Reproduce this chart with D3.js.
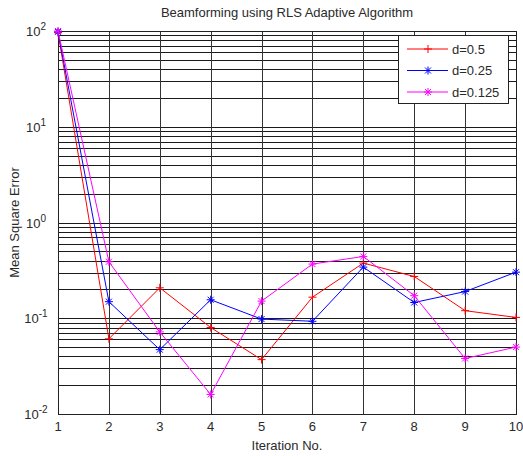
<!DOCTYPE html>
<html>
<head>
<meta charset="utf-8">
<script src="https://cdn.jsdelivr.net/npm/d3@7"></script>
<style>
  html, body { margin: 0; padding: 0; background: #fff; }
  svg text { font-family: "Liberation Sans", Arial, sans-serif; fill: #2a2a2a; }
</style>
</head>
<body>
<svg id="chart" width="523" height="456"></svg>
<script>
// Iterations on the x axis
const iterations = [1, 2, 3, 4, 5, 6, 7, 8, 9, 10];

// Mean square error per iteration for each spacing d
const mseD050  = [96, 0.061, 0.208, 0.080, 0.037, 0.166, 0.377, 0.273, 0.120, 0.102];
const mseD025  = [98, 0.149, 0.047, 0.156, 0.098, 0.093, 0.342, 0.146, 0.190, 0.303];
const mseD0125 = [100, 0.389, 0.072, 0.016, 0.151, 0.368, 0.442, 0.172, 0.038, 0.050];

const seriesNames  = ["d=0.5", "d=0.25", "d=0.125"];
const seriesColors = ["#ff0000", "#0000ff", "#ff00ff"];
const seriesMarkers = ["plus", "star", "star"];

const yTickExponents = [-2, -1, 0, 1, 2];

const series = [mseD050, mseD025, mseD0125].map((vals, i) => ({
  name: seriesNames[i], color: seriesColors[i], marker: seriesMarkers[i],
  points: vals.map((v, j) => ({ x: iterations[j], y: v }))
}));

const svg = d3.select("#chart");
const margin = { left: 58, right: 7, top: 31, bottom: 42 };
const W = 523, H = 456;
const x = d3.scaleLinear().domain([1, 10]).range([margin.left, W - margin.right]);
const y = d3.scaleLog().domain([0.01, 100]).range([H - margin.bottom, margin.top]);

const x0 = x.range()[0], x1 = x.range()[1];
const yB = y.range()[0], yT = y.range()[1];

// Log grid: a line at every decade and every minor step inside it
const gridVals = [];
for (let e = -2; e < 2; e++) for (let m = 1; m < 10; m++) gridVals.push(m * Math.pow(10, e));
gridVals.push(100);

const grid = svg.append("g");
grid.selectAll("line.h").data(gridVals).enter().append("line")
  .attr("x1", x0).attr("x2", x1)
  .attr("y1", d => Math.round(y(d)) + 0.5).attr("y2", d => Math.round(y(d)) + 0.5)
  .attr("stroke", "#1a1a1a").attr("stroke-width", 1);
grid.selectAll("line.v").data(iterations).enter().append("line")
  .attr("x1", d => Math.round(x(d)) + 0.5).attr("x2", d => Math.round(x(d)) + 0.5)
  .attr("y1", yT).attr("y2", yB)
  .attr("stroke", "#333").attr("stroke-width", 1);

// Axes box
svg.append("rect")
  .attr("x", Math.round(x0) + 0.5).attr("y", Math.round(yT) + 0.5)
  .attr("width", Math.round(x1) - Math.round(x0)).attr("height", Math.round(yB) - Math.round(yT))
  .attr("fill", "none").attr("stroke", "#222").attr("stroke-width", 1);

// X tick labels
svg.append("g").selectAll("text").data(iterations).enter().append("text")
  .attr("x", d => x(d)).attr("y", yB + 17)
  .attr("text-anchor", "middle").attr("font-size", 13)
  .text(d => d);

// Y tick labels as powers of ten
const yl = svg.append("g");
yTickExponents.forEach(e => {
  const t = yl.append("text")
    .attr("x", x0 - 22).attr("y", y(Math.pow(10, e)) + 5)
    .attr("text-anchor", "middle").attr("font-size", 13);
  t.append("tspan").text("10");
  t.append("tspan").attr("dy", -6).attr("font-size", 10).text(e);
});

// Titles
svg.append("text").attr("x", (x0 + x1) / 2).attr("y", 17)
  .attr("text-anchor", "middle").attr("font-size", 13)
  .text("Beamforming using RLS Adaptive Algorithm");
svg.append("text").attr("x", (x0 + x1) / 2).attr("y", H - 6)
  .attr("text-anchor", "middle").attr("font-size", 13)
  .text("Iteration No.");
svg.append("text")
  .attr("transform", `translate(19,${(yT + yB) / 2}) rotate(-90)`)
  .attr("text-anchor", "middle").attr("font-size", 13)
  .text("Mean Square Error");

// Marker shapes
function drawMarker(g, kind, cx, cy, color, r) {
  const segs = [[-r, 0, r, 0], [0, -r, 0, r]];
  if (kind === "star") {
    const d = r * 0.75;
    segs.push([-d, -d, d, d], [-d, d, d, -d]);
  }
  segs.forEach(s => g.append("line")
    .attr("x1", cx + s[0]).attr("y1", cy + s[1])
    .attr("x2", cx + s[2]).attr("y2", cy + s[3])
    .attr("stroke", color).attr("stroke-width", 1));
}

// Series lines and markers
const line = d3.line().x(d => x(d.x)).y(d => y(d.y));
series.forEach(s => {
  const g = svg.append("g");
  g.append("path").datum(s.points)
    .attr("d", line).attr("fill", "none")
    .attr("stroke", s.color).attr("stroke-width", 1);
  s.points.forEach(p => drawMarker(g, s.marker, x(p.x), y(p.y), s.color, 4));
});

// Legend
const lg = svg.append("g");
lg.append("rect").attr("x", 398.5).attr("y", 35.5).attr("width", 110).attr("height", 68)
  .attr("fill", "#fff").attr("stroke", "#222").attr("stroke-width", 1);
series.forEach((s, i) => {
  const ly = 49 + i * 21.5;
  lg.append("line").attr("x1", 407).attr("x2", 448).attr("y1", ly).attr("y2", ly)
    .attr("stroke", s.color).attr("stroke-width", 1);
  drawMarker(lg, s.marker, 428, ly, s.color, 4);
  lg.append("text").attr("x", 452).attr("y", ly + 4.5).attr("font-size", 13).text(s.name);
});
</script>
</body>
</html>
